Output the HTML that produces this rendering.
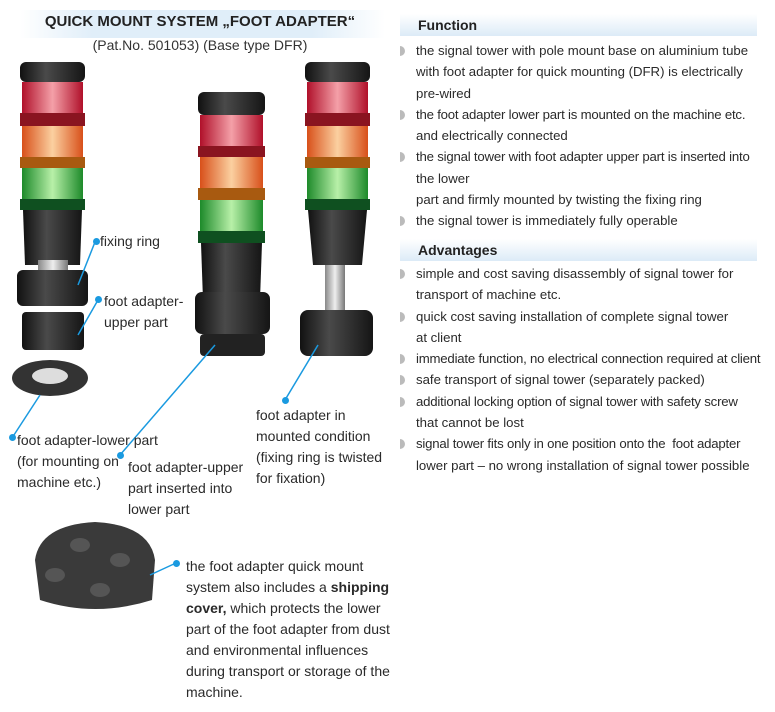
<!DOCTYPE html>
<html><head><meta charset="utf-8"><style>
body{margin:0;width:775px;height:712px;background:#fff;position:relative;overflow:hidden;font-family:"Liberation Sans",sans-serif;color:#222}
.a{position:absolute}
.hdr{background:linear-gradient(#fff,#dcebf7);font-weight:bold;font-size:14px;padding-left:18px;line-height:22px}
ul{margin:0;padding:0;list-style:none}
li{position:relative;padding-left:17px;font-size:13.2px;line-height:21.3px;color:#2a2a2a;white-space:nowrap}
li:before{content:"";position:absolute;left:1px;top:6px;width:5px;height:10px;background:#bbb;border-radius:0 5px 5px 0}
.n{letter-spacing:-0.2px}
.lbl{font-size:14px;line-height:21px;color:#2a2a2a;white-space:nowrap}
.dot{position:absolute;width:7px;height:7px;border-radius:50%;background:#1a9ae0}
</style></head><body>
<div class="a" style="left:20px;top:10px;width:365px;height:28px;background:linear-gradient(90deg,#fff,#e0eef9 20%,#e0eef9 80%,#fff)"></div>
<div class="a" style="left:0;top:13px;width:400px;text-align:center;font-weight:bold;font-size:15px">QUICK MOUNT SYSTEM „FOOT ADAPTER“</div>
<div class="a" style="left:0;top:37px;width:400px;text-align:center;font-size:14px;color:#333">(Pat.No. 501053) (Base type DFR)</div>

<svg class="a" style="left:0;top:0" width="400" height="712">
<defs>
<linearGradient id="bk" x1="0" x2="1"><stop offset="0" stop-color="#111"/><stop offset=".4" stop-color="#4a4a4a"/><stop offset="1" stop-color="#151515"/></linearGradient>
<linearGradient id="r" x1="0" x2="1"><stop offset="0" stop-color="#b0102a"/><stop offset=".5" stop-color="#f4a0a8"/><stop offset="1" stop-color="#b0102a"/></linearGradient>
<linearGradient id="o" x1="0" x2="1"><stop offset="0" stop-color="#d8501a"/><stop offset=".5" stop-color="#fbd0a0"/><stop offset="1" stop-color="#d8501a"/></linearGradient>
<linearGradient id="g" x1="0" x2="1"><stop offset="0" stop-color="#1d8a2a"/><stop offset=".5" stop-color="#b8f0a8"/><stop offset="1" stop-color="#1d8a2a"/></linearGradient>
<linearGradient id="al" x1="0" x2="1"><stop offset="0" stop-color="#888"/><stop offset=".5" stop-color="#eee"/><stop offset="1" stop-color="#777"/></linearGradient>
</defs>
<g>
<rect x="20" y="62" width="65" height="20" rx="6" fill="url(#bk)"/>
<rect x="22" y="82" width="61" height="32" fill="url(#r)"/>
<rect x="20" y="113" width="65" height="13" fill="#8a1420"/>
<rect x="22" y="126" width="61" height="32" fill="url(#o)"/>
<rect x="20" y="157" width="65" height="11" fill="#a85a10"/>
<rect x="22" y="168" width="61" height="32" fill="url(#g)"/>
<rect x="20" y="199" width="65" height="11" fill="#0f5020"/>
<path d="M23 210 H82 L80 265 H25 Z" fill="url(#bk)"/>
<rect x="38" y="260" width="30" height="20" fill="url(#al)"/>
<rect x="17" y="270" width="71" height="36" rx="6" fill="url(#bk)"/>
<rect x="22" y="312" width="62" height="38" rx="4" fill="url(#bk)"/>
<ellipse cx="50" cy="378" rx="38" ry="18" fill="#333"/>
<ellipse cx="50" cy="376" rx="18" ry="8" fill="#ddd"/>
</g>
<g>
<rect x="198" y="92" width="67" height="23" rx="6" fill="url(#bk)"/>
<rect x="200" y="115" width="63" height="33" fill="url(#r)"/>
<rect x="198" y="146" width="67" height="11" fill="#8a1420"/>
<rect x="200" y="157" width="63" height="33" fill="url(#o)"/>
<rect x="198" y="188" width="67" height="12" fill="#a85a10"/>
<rect x="200" y="200" width="63" height="32" fill="url(#g)"/>
<rect x="198" y="231" width="67" height="12" fill="#0f5020"/>
<path d="M201 243 H262 L260 300 H203 Z" fill="url(#bk)"/>
<rect x="195" y="292" width="75" height="42" rx="7" fill="url(#bk)"/>
<rect x="200" y="334" width="65" height="22" rx="4" fill="#222"/>
</g>
<g>
<rect x="305" y="62" width="65" height="20" rx="6" fill="url(#bk)"/>
<rect x="307" y="82" width="61" height="32" fill="url(#r)"/>
<rect x="305" y="113" width="65" height="13" fill="#8a1420"/>
<rect x="307" y="126" width="61" height="32" fill="url(#o)"/>
<rect x="305" y="157" width="65" height="11" fill="#a85a10"/>
<rect x="307" y="168" width="61" height="32" fill="url(#g)"/>
<rect x="305" y="199" width="65" height="11" fill="#0f5020"/>
<path d="M308 210 H367 L362 265 H313 Z" fill="url(#bk)"/>
<rect x="325" y="265" width="20" height="50" fill="url(#al)"/>
<rect x="300" y="310" width="73" height="46" rx="8" fill="url(#bk)"/>
</g>
<path d="M35 560 Q40 525 95 522 Q150 525 155 560 L152 600 Q95 618 40 600 Z" fill="#3a3a3a"/>
<ellipse cx="80" cy="545" rx="10" ry="7" fill="#555"/>
<ellipse cx="120" cy="560" rx="10" ry="7" fill="#555"/>
<ellipse cx="55" cy="575" rx="10" ry="7" fill="#555"/>
<ellipse cx="100" cy="590" rx="10" ry="7" fill="#555"/>
<g stroke="#1a9ae0" stroke-width="1.5">
<line x1="95" y1="242" x2="78" y2="285"/>
<line x1="98" y1="300" x2="78" y2="335"/>
<line x1="12" y1="438" x2="40" y2="395"/>
<line x1="120" y1="455" x2="215" y2="345"/>
<line x1="285" y1="400" x2="318" y2="345"/>
<line x1="176" y1="563" x2="150" y2="575"/>
</g>
</svg>
<div class="dot" style="left:93px;top:238px"></div>
<div class="dot" style="left:95px;top:296px"></div>
<div class="dot" style="left:9px;top:434px"></div>
<div class="dot" style="left:117px;top:452px"></div>
<div class="dot" style="left:282px;top:397px"></div>
<div class="dot" style="left:173px;top:560px"></div>

<div class="a lbl" style="left:100px;top:231px">fixing ring</div>
<div class="a lbl" style="left:104px;top:291px">foot adapter-<br>upper part</div>
<div class="a lbl" style="left:17px;top:430px">foot adapter-lower part<br>(for mounting on<br>machine etc.)</div>
<div class="a lbl" style="left:128px;top:457px">foot adapter-upper<br>part inserted into<br>lower part</div>
<div class="a lbl" style="left:256px;top:405px">foot adapter in<br>mounted condition<br>(fixing ring is twisted<br>for fixation)</div>
<div class="a lbl" style="left:186px;top:556px">the foot adapter quick mount<br>system also includes a <b>shipping</b><br><b>cover,</b> which protects the lower<br>part of the foot adapter from dust<br>and environmental influences<br>during transport or storage of the<br>machine.</div>

<div class="a hdr" style="left:400px;top:14px;width:339px">Function</div>
<ul class="a" style="left:399px;top:40px;width:370px">
<li>the signal tower with pole mount base on aluminium tube<br>with foot adapter for quick mounting (DFR) is electrically<br>pre-wired</li>
<li><span class="n">the foot adapter lower part is mounted on the machine etc.</span><br>and electrically connected</li>
<li><span class="n">the signal tower with foot adapter upper part is inserted into</span><br>the lower<br>part and firmly mounted by twisting the fixing ring</li>
<li>the signal tower is immediately fully operable</li>
</ul>
<div class="a hdr" style="left:400px;top:239px;width:339px">Advantages</div>
<ul class="a" style="left:399px;top:263px;width:370px">
<li>simple and cost saving disassembly of signal tower for<br>transport of machine etc.</li>
<li>quick cost saving installation of complete signal tower<br>at client</li>
<li><span class="n">immediate function, no electrical connection required at client</span></li>
<li>safe transport of signal tower (separately packed)</li>
<li><span class="n">additional locking option of signal tower with safety screw</span><br>that cannot be lost</li>
<li><span class="n">signal tower fits only in one position onto the&nbsp; foot adapter</span><br>lower part – no wrong installation of signal tower possible</li>
</ul>
</body></html>
